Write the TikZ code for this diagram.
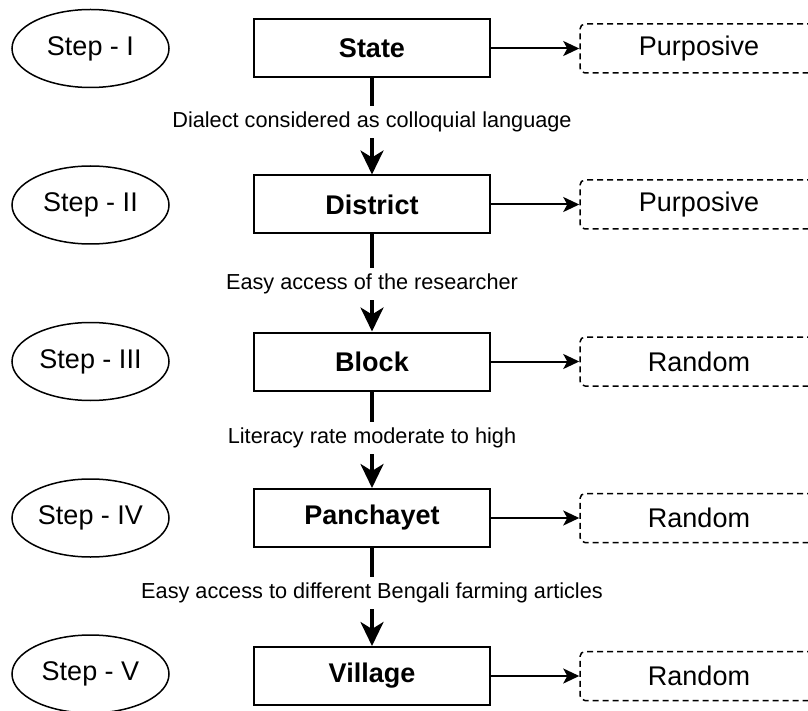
\documentclass[tikz,border=0pt]{standalone}
\usepackage{fontspec}
\setmainfont{Liberation Sans}
\usetikzlibrary{shapes.geometric,arrows.meta}
\begin{document}
\begin{tikzpicture}[x=1pt,y=-1pt,
  stepell/.style={ellipse, draw, line width=1.5pt, minimum width=157pt, minimum height=78pt, inner sep=0pt, font=\fontsize{27}{32}\selectfont},
  levelbox/.style={rectangle, draw, line width=2pt, minimum width=236pt, minimum height=58pt, inner sep=0pt, font=\bfseries\fontsize{27}{32}\selectfont},
  methbox/.style={rectangle, draw, dash pattern=on 6pt off 4pt, rounded corners=5pt, line width=1.5pt, minimum width=238pt, minimum height=49pt, inner sep=0pt, font=\fontsize{27}{32}\selectfont},
  crit/.style={fill=white, inner xsep=3pt, inner ysep=6pt, font=\fontsize{21.7}{26}\selectfont},
  down/.style={line width=3.5pt, -{Stealth[length=24pt,width=23pt,inset=7pt]}},
  side/.style={line width=2pt, -{Stealth[length=16pt,width=15pt,inset=4pt]}}
]
\clip (0,0) rectangle (808,711);
\fill[white] (0,0) rectangle (808,711);

\node[stepell] (e1) at (90.5,48.5) {Step - I};
\node[stepell] (e2) at (90.5,205) {Step - II};
\node[stepell] (e3) at (90.5,361.5) {Step - III};
\node[stepell] (e4) at (90.5,518) {Step - IV};
\node[stepell] (e5) at (90.5,674) {Step - V};

\node[levelbox] (b1) at (372,48.5) {State};
\node[levelbox] (b2) at (372,204.5) {District};
\node[levelbox] (b3) at (372,361.5) {Block};
\node[levelbox] (b4) at (372,518) {Panchayet};
\node[levelbox] (b5) at (372,676) {Village};

\node[methbox] (m1) at (699,48.5) {Purposive};
\node[methbox] (m2) at (699,204.5) {Purposive};
\node[methbox] (m3) at (699,361.5) {Random};
\node[methbox] (m4) at (699,518) {Random};
\node[methbox] (m5) at (699,676) {Random};

\draw[down] (b1.south) -- node[crit,pos=0.45] (l1) {Dialect considered as colloquial language} (b2.north);
\draw[down] (b2.south) -- node[crit,pos=0.51] (l2) {Easy access of the researcher} (b3.north);
\draw[down] (b3.south) -- node[crit,pos=0.48] (l3) {Literacy rate moderate to high} (b4.north);
\draw[down] (b4.south) -- node[crit,pos=0.46] (l4) {Easy access to different Bengali farming articles} (b5.north);

\foreach \i in {1,...,5} {
  \draw[side] (b\i.east) -- (m\i.west);
}
\end{tikzpicture}
\end{document}
